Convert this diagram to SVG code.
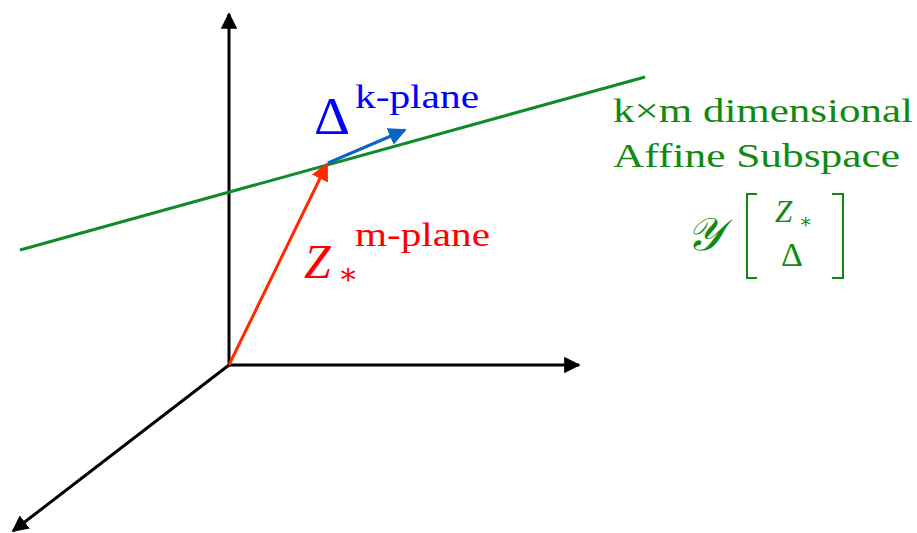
<svg xmlns="http://www.w3.org/2000/svg" width="917" height="533" viewBox="0 0 917 533">
<defs>
<marker id="ak" viewBox="0 0 10 10" refX="9" refY="5" markerWidth="5.5" markerHeight="5.5" markerUnits="strokeWidth" orient="auto"><path d="M0,0 L10,5 L0,10 z" fill="#000"/></marker>
<marker id="ar" viewBox="0 0 10 10" refX="9" refY="5" markerWidth="6" markerHeight="6" markerUnits="strokeWidth" orient="auto"><path d="M0,0 L10,5 L0,10 z" fill="#ff2a00"/></marker>
<marker id="ab" viewBox="0 0 10 10" refX="9" refY="5" markerWidth="6" markerHeight="6" markerUnits="strokeWidth" orient="auto"><path d="M0,0 L10,5 L0,10 z" fill="#0a64c8"/></marker>
</defs>
<style>
.t{font-family:"Liberation Serif","DejaVu Serif",serif}
.i{font-style:italic}
.ax{stroke:#000;stroke-width:3;fill:none}
.g{fill:#108a10}
</style>
<g id="connectors">
<line class="ax" x1="229" y1="365" x2="229" y2="14" marker-end="url(#ak)"/>
<line class="ax" x1="229" y1="365" x2="579" y2="365" marker-end="url(#ak)"/>
<line class="ax" x1="229" y1="365" x2="13" y2="531" marker-end="url(#ak)"/>
<line x1="20" y1="250" x2="645" y2="77" stroke="#108a2a" stroke-width="3"/>
<line x1="229" y1="365" x2="327" y2="164" stroke="#ff2a00" stroke-width="3" marker-end="url(#ar)"/>
<line x1="328" y1="163" x2="405" y2="130" stroke="#0a64c8" stroke-width="3" marker-end="url(#ab)"/>
</g>
<g id="delta-label">
<text class="t" x="314" y="134" font-size="52" fill="#0000ff" textLength="36" lengthAdjust="spacingAndGlyphs">Δ</text>
<text class="t" x="355" y="108" font-size="34" fill="#0000ff" textLength="124" lengthAdjust="spacingAndGlyphs">k-plane</text>
</g>
<g id="z-label">
<text class="t i" x="304" y="278" font-size="48" fill="#ff0000">Z</text>
<text class="t" x="338" y="284" font-size="30" fill="#ff0000">∗</text>
<text class="t" x="355" y="246" font-size="34" fill="#ff0000" textLength="135" lengthAdjust="spacingAndGlyphs">m-plane</text>
</g>
<g id="subspace-label" class="g">
<text class="t" x="613" y="122" font-size="33" textLength="300" lengthAdjust="spacingAndGlyphs">k×m dimensional</text>
<text class="t" x="613" y="167" font-size="33" textLength="287" lengthAdjust="spacingAndGlyphs">Affine Subspace</text>
<text class="t i" x="686" y="250" font-size="46">𝒴</text>
<path d="M757,194 H747 V278 H757 M832,194 H843 V278 H832" fill="none" stroke="#108a10" stroke-width="2"/>
<text class="t i" x="775" y="222" font-size="31">Z</text>
<text class="t" x="799" y="228" font-size="20">∗</text>
<text class="t" x="781" y="266" font-size="34">Δ</text>
</g>
</svg>
